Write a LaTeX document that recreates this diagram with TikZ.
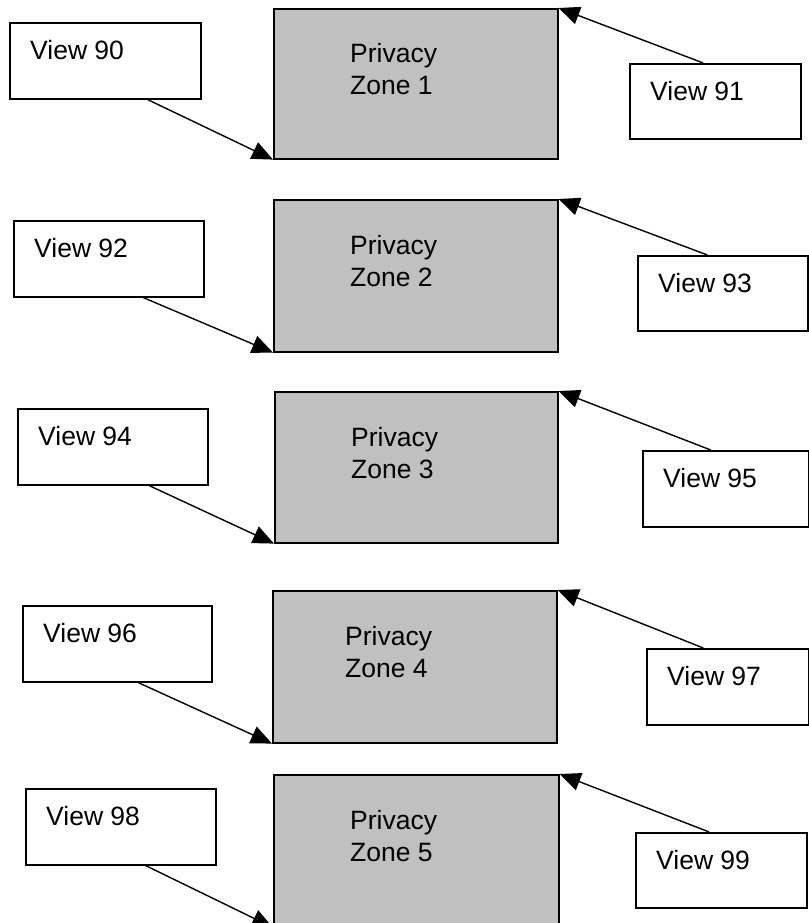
\documentclass[tikz,border=0pt]{standalone}
\usepackage{fontspec}
\setmainfont{Liberation Sans}
\usetikzlibrary{calc,arrows.meta}
\definecolor{zonegray}{HTML}{C0C0C0}
\begin{document}
\begin{tikzpicture}[x=1pt,y=-1pt,
  zone/.style={draw, line width=1.6pt, fill=zonegray, anchor=north west, inner sep=0pt},
  viewbox/.style={draw, line width=1.6pt, fill=white, anchor=north west, inner sep=0pt},
  txt/.style={font=\fontsize{26.5}{31}\selectfont, inner sep=0pt},
  link/.style={line width=1.4pt, -{Triangle[length=21pt,width=18pt]}}]
\useasboundingbox (0,0) rectangle (808,923);

% each row: left view, privacy zone, right view

% ---- row 1
\node[zone, minimum width=284pt, minimum height=150pt] (z1) at (273,8) {};
\node[viewbox, minimum width=191pt, minimum height=76pt] (v90) at (9,22) {};
\node[viewbox, minimum width=171pt, minimum height=75pt] (v91) at (629,63) {};
% ---- row 2
\node[zone, minimum width=284pt, minimum height=152pt] (z2) at (273,199) {};
\node[viewbox, minimum width=190pt, minimum height=76pt] (v92) at (13,220) {};
\node[viewbox, minimum width=170pt, minimum height=75pt] (v93) at (637,255) {};
% ---- row 3
\node[zone, minimum width=283pt, minimum height=151pt] (z3) at (274,391) {};
\node[viewbox, minimum width=190pt, minimum height=76pt] (v94) at (17,408) {};
\node[viewbox, minimum width=166pt, minimum height=76pt] (v95) at (642,450) {};
% ---- row 4
\node[zone, minimum width=284pt, minimum height=152pt] (z4) at (272,590) {};
\node[viewbox, minimum width=189pt, minimum height=76pt] (v96) at (22,605) {};
\node[viewbox, minimum width=162pt, minimum height=76pt] (v97) at (646,648) {};
% ---- row 5
\node[zone, minimum width=285pt, minimum height=152pt] (z5) at (273,774) {};
\node[viewbox, minimum width=190pt, minimum height=76pt] (v98) at (25,788) {};
\node[viewbox, minimum width=171pt, minimum height=75pt] (v99) at (635,832) {};

% zone captions
\foreach \z/\n/\dx in {z1/1/77, z2/2/77, z3/3/77, z4/4/73, z5/5/77}{
  \node[txt, anchor=base west] (\z p) at ($(\z.north west)+(\dx,55)$) {Privacy};
  \node[txt, anchor=base west] (\z n) at ($(\z.north west)+(\dx,87)$) {Zone \n};
}
% view captions
\foreach \v in {90,...,99}{
  \node[txt, anchor=west] (t\v) at ($(v\v.north west)+(21,28)$) {View \v};
}

% connectors: left views point at the lower left corner,
% right views at the upper right corner of their zone
\foreach \v/\z/\f in {90/z1/0.72, 92/z2/0.68, 94/z3/0.69, 96/z4/0.61, 98/z5/0.63}{
  \draw[link] ($(v\v.south west)!\f!(v\v.south east)$) -- (\z.south west);
}
\foreach \v/\z/\f in {91/z1/0.43, 93/z2/0.41, 95/z3/0.41, 97/z4/0.35, 99/z5/0.43}{
  \draw[link] ($(v\v.north west)!\f!(v\v.north east)$) -- (\z.north east);
}
\end{tikzpicture}
\end{document}
